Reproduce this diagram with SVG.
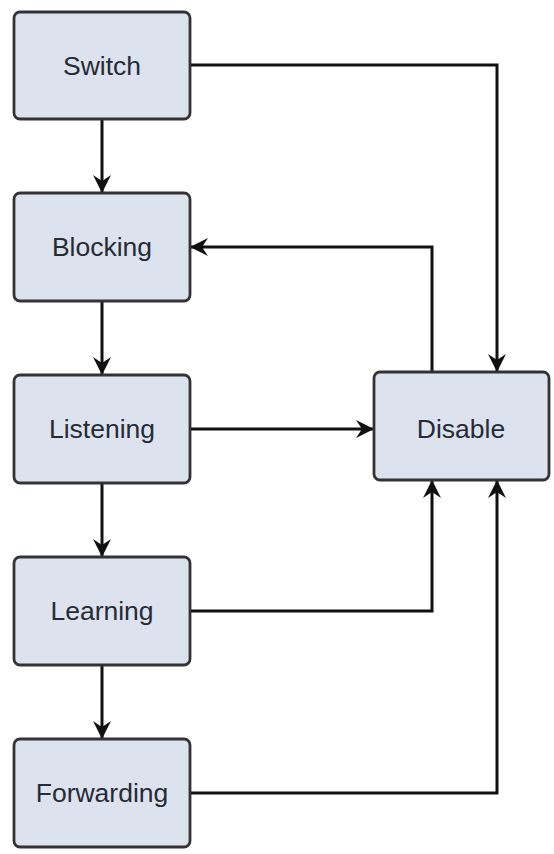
<svg xmlns="http://www.w3.org/2000/svg" width="554" height="854" viewBox="0 0 554 854">
<style>
.box{fill:#dde3ee;stroke:#333;stroke-width:2.8}
.lbl{font-family:"Liberation Sans",Arial,sans-serif;font-size:26.5px;fill:#262b35;text-anchor:middle;dominant-baseline:central}
.edge{fill:none;stroke:#111;stroke-width:3}
</style>
<defs>
<marker id="arr" viewBox="0 0 18 18" refX="17" refY="9" markerWidth="18" markerHeight="18" markerUnits="userSpaceOnUse" orient="auto">
<path d="M0,0 L18,9 L0,18 L6,9 Z" fill="#111"/>
</marker>
</defs>
<rect width="554" height="854" fill="#fff"/>
<g id="connectors">
<path class="edge" d="M102,119 V192" marker-end="url(#arr)"/>
<path class="edge" d="M102,301 V374" marker-end="url(#arr)"/>
<path class="edge" d="M102,483 V556" marker-end="url(#arr)"/>
<path class="edge" d="M102,665 V738" marker-end="url(#arr)"/>
<path class="edge" d="M190,65 H497 V371" marker-end="url(#arr)"/>
<path class="edge" d="M432,372 V247 H191" marker-end="url(#arr)"/>
<path class="edge" d="M190,429 H373" marker-end="url(#arr)"/>
<path class="edge" d="M190,611 H432 V481" marker-end="url(#arr)"/>
<path class="edge" d="M190,793 H497 V481" marker-end="url(#arr)"/>
</g>
<g id="switch"><rect class="box" x="14" y="12" width="176" height="107" rx="6"/><text class="lbl" x="102" y="66">Switch</text></g>
<g id="blocking"><rect class="box" x="14" y="193" width="176" height="108" rx="6"/><text class="lbl" x="102" y="247">Blocking</text></g>
<g id="listening"><rect class="box" x="14" y="375" width="176" height="108" rx="6"/><text class="lbl" x="102" y="429">Listening</text></g>
<g id="learning"><rect class="box" x="14" y="557" width="176" height="108" rx="6"/><text class="lbl" x="102" y="611">Learning</text></g>
<g id="forwarding"><rect class="box" x="14" y="739" width="176" height="108" rx="6"/><text class="lbl" x="102" y="793">Forwarding</text></g>
<g id="disable"><rect class="box" x="374" y="372" width="175" height="108" rx="6"/><text class="lbl" x="461" y="429">Disable</text></g>
</svg>
